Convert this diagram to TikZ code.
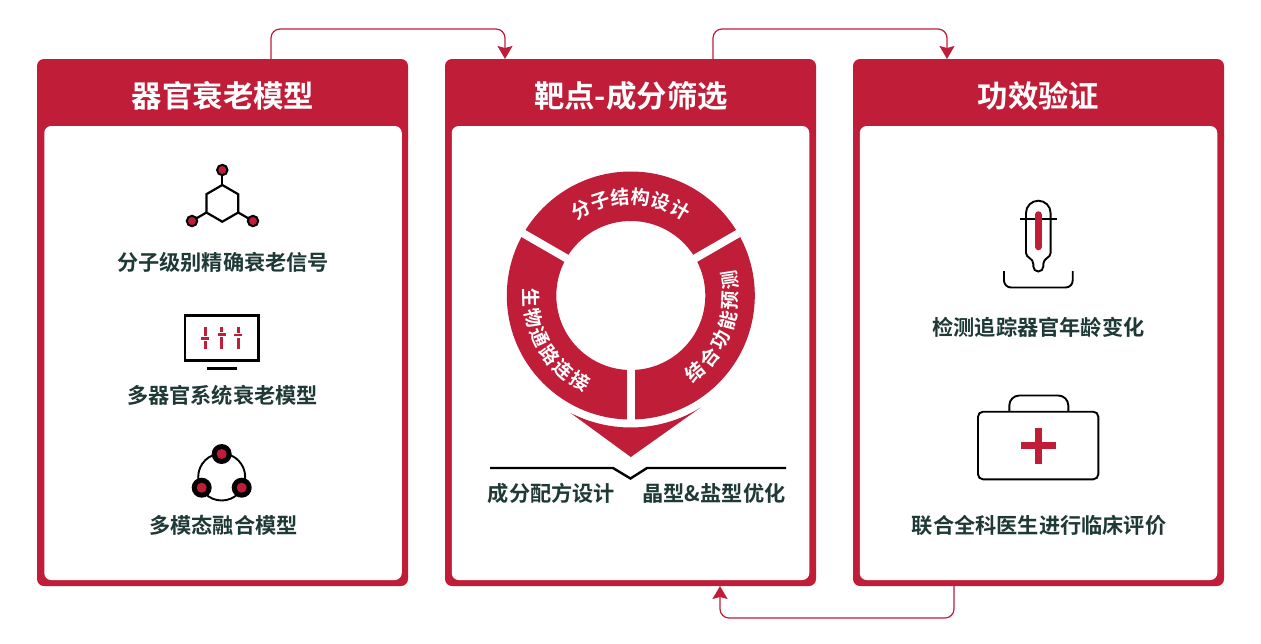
\documentclass[tikz,border=0pt]{standalone}
\usepackage{fontspec}
\setmainfont{Noto Sans CJK SC}[BoldFont={* Bold}]
\usetikzlibrary{arrows.meta}

\definecolor{crimson}{HTML}{BF1D38}
\definecolor{inkgreen}{HTML}{1F3A36}

\tikzset{
  panel/.style={fill=crimson, rounded corners=7pt, minimum width=371pt, minimum height=527pt, inner sep=0pt, outer sep=0pt},
  sheet/.style={fill=white, rounded corners=7pt, minimum width=357.5pt, minimum height=454pt, inner sep=0pt, outer sep=0pt},
  headline/.style={text=white, font=\fontsize{30.4}{32}\selectfont\bfseries, inner sep=0pt},
  caption/.style={text=inkgreen, font=\fontsize{21.2}{24}\selectfont\bfseries, inner sep=0pt},
  ringtext/.style={text=white, font=\fontsize{19}{20}\selectfont\bfseries, inner sep=0pt},
  flow/.style={draw=crimson, line width=1.2pt, rounded corners=9pt, -{Stealth[width=15pt,length=13pt,inset=2pt]}},
  icon/.style={draw=black, line width=2.2pt},
  slider/.style={draw=crimson, line width=3pt},
}

\begin{document}
\begin{tikzpicture}[x=1pt,y=-1pt]

\useasboundingbox (0,0) rectangle (1261,643);

\node [panel] (modelbox) at (222.5,322.5) {};
\node [panel] (screenbox) at (630.5,322.5) {};
\node [panel] (proofbox) at (1038.5,322.5) {};

\node [sheet] (modelsheet) at (223,353) {};
\node [sheet] (screensheet) at (630.5,353) {};
\node [sheet] (proofsheet) at (1038.5,353) {};

\node [headline] (modeltitle) at (223,95.5) {器官衰老模型};
\node [headline] (screentitle) at (631,95.5) {靶点-成分筛选};
\node [headline] (prooftitle) at (1038.5,95.5) {功效验证};

\draw [flow] ([xshift=48.5pt]modelbox.north) -- ++(0,-30) -| ([xshift=-125.5pt]screenbox.north);
\draw [flow] ([xshift=82.5pt]screenbox.north) -- ++(0,-30) -| ([xshift=-91.5pt]proofbox.north);
\draw [flow] ([xshift=-84.5pt]proofbox.south) -- ++(0,32) -| ([xshift=89.5pt]screenbox.south);

\draw [icon] (222.3,185) -- (238.2,194.2) -- (238.2,212.5) -- (222.3,221.7) -- (206.4,212.5) -- (206.4,194.2) -- cycle;
\draw [icon] (222.3,185) -- (222.3,170);
\draw [icon] (206.4,212.5) -- (192,221);
\draw [icon] (238.2,212.5) -- (253,221);
\filldraw [icon, fill=crimson, line width=2pt] (222.3,170) circle (5.2);
\filldraw [icon, fill=crimson, line width=2pt] (192,221) circle (5.2);
\filldraw [icon, fill=crimson, line width=2pt] (253,221) circle (5.2);
\node [caption] (signal) at (223,262) {分子级别精确衰老信号};

\draw [icon, line width=2.4pt] (185,315.5) rectangle (258.5,360.5);
\draw [icon, line width=2.4pt] (207.3,368.3) -- (237.3,368.3);
\draw [slider] (205,326.7) -- (205,349.3);
\draw [slider] (221.7,326.7) -- (221.7,349.3);
\draw [slider] (238.3,326.7) -- (238.3,349.3);
\draw [draw=white, line width=5pt] (201,338.3) -- (209,338.3);
\draw [draw=white, line width=5pt] (217.7,334.3) -- (225.7,334.3);
\draw [draw=white, line width=5pt] (234.3,335) -- (242.3,335);
\draw [slider, line width=2.5pt] (201,338.3) -- (209,338.3);
\draw [slider, line width=2.5pt] (217.7,334.3) -- (225.7,334.3);
\draw [slider, line width=2.5pt] (234.3,335) -- (242.3,335);
\node [caption] (organs) at (222.5,395.5) {多器官系统衰老模型};

\draw [icon, line width=1.9pt] (221.7,477) circle (23.5);
\fill (221.7,454) circle (10);
\fill (201.7,487.7) circle (10);
\fill (241.7,487.7) circle (10);
\fill [crimson] (221.7,454) circle (5);
\fill [crimson] (201.7,487.7) circle (5);
\fill [crimson] (241.7,487.7) circle (5);
\node [caption] (fusion) at (223.5,525) {多模态融合模型};

\begin{scope}[shift={(630.8,295.5)},y=1pt]
\fill [crimson, even odd rule] (0,0) circle (124) (0,0) circle (74.5);
\draw [white, line width=8pt] (270:60) -- (270:128);
\draw [white, line width=8pt] (30:60) -- (30:128);
\draw [white, line width=8pt] (150:60) -- (150:128);
\fill [crimson] (242.8:132) arc [start angle=242.8, end angle=301.9, radius=132] -- (270:161.5) -- cycle;
\foreach \ch [count=\i, evaluate=\i as \ang using 119.8-(\i-1)*11.9] in {分,子,结,构,设,计}
  \node [ringtext, rotate=\ang-90] (design\i) at (\ang:99) {\ch};
\foreach \ch [count=\i, evaluate=\i as \ang using -49.8+(\i-1)*11.7] in {结,合,功,能,预,测}
  \node [ringtext, rotate=\ang+90] (predict\i) at (\ang:100) {\ch};
\foreach \ch [count=\i, evaluate=\i as \ang using 181.4+(\i-1)*11.6] in {生,物,通,路,连,接}
  \node [ringtext, rotate=\ang+90] (pathway\i) at (\ang:100) {\ch};
\end{scope}

\draw [black, line width=2.4pt] (490,468) -- (613,468) -- (630.5,478.5) -- (647,468) -- (786,468);
\node [caption] (recipe) at (551.5,493.5) {成分配方设计};
\node [caption] (crystal) at (714,493.5) {晶型\&盐型优化};

\draw [icon, line width=1.9pt] (1026,253) -- (1026,213) arc [start angle=180, end angle=360, radius=12.3] -- (1050.6,253)
  .. controls (1050.6,258) and (1043.3,258) .. (1043.3,264) -- (1043.3,266.5) arc [start angle=0, end angle=180, radius=5] -- (1033.3,264)
  .. controls (1033.3,258) and (1026,258) .. (1026,253);
\draw [icon, line width=1.9pt] (1020,219.3) -- (1056.7,219.3);
\draw [crimson, line width=6.5pt, line cap=round] (1038.3,214.5) -- (1038.3,247);
\draw [icon, line width=1.9pt, rounded corners=7pt] (1004,271) -- (1004,287.5) -- (1072.7,287.5) -- (1072.7,271);
\node [caption] (tracking) at (1038.5,327) {检测追踪器官年龄变化};

\draw [icon, line width=1.9pt, rounded corners=10pt] (1009.3,411.5) -- (1009.3,395.5) -- (1068.3,395.5) -- (1068.3,411.5);
\draw [icon, line width=1.9pt, rounded corners=5pt] (978,411.7) rectangle (1098.3,479.3);
\fill [crimson] (1035,428) rectangle (1042.4,463.5);
\fill [crimson] (1021,442) rectangle (1056.4,449.4);
\node [caption] (clinic) at (1039,525) {联合全科医生进行临床评价};

\end{tikzpicture}
\end{document}
